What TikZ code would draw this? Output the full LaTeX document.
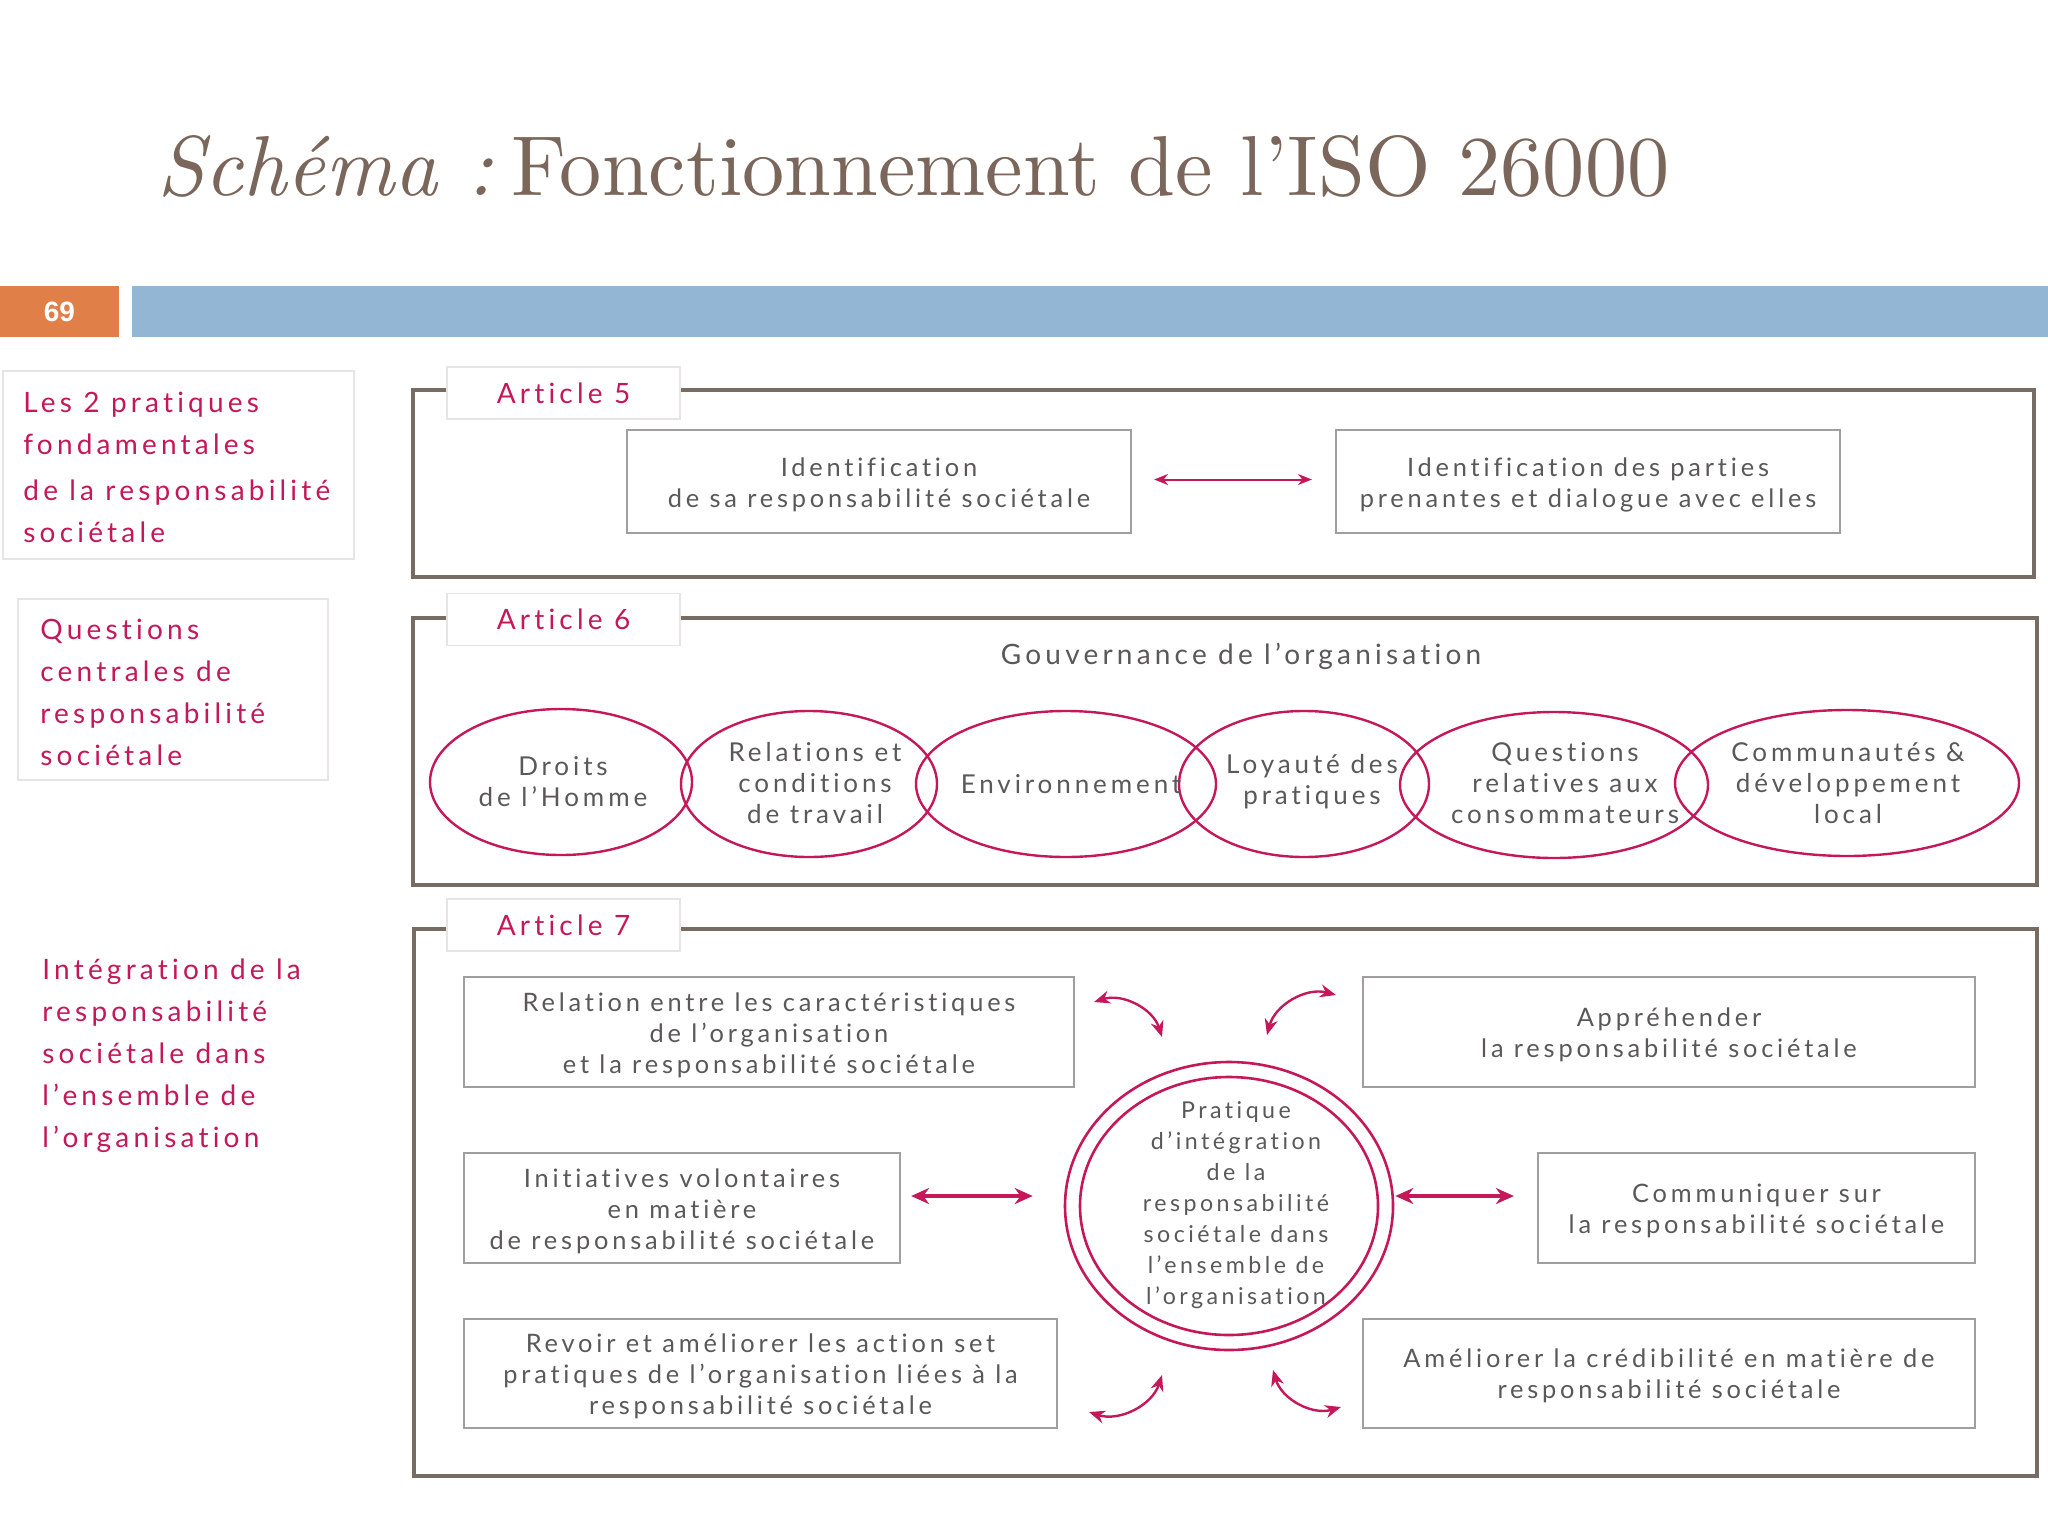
\documentclass[tikz,border=0pt]{standalone}
\usepackage{fontspec}
\usepackage{graphicx}
\usetikzlibrary{shapes.geometric,arrows.meta}
\newfontfamily\bodyfont[LetterSpace=15,Ligatures=NoCommon]{Lato}
\newfontfamily\numfont{Liberation Sans}
\definecolor{crim}{RGB}{197,24,90}
\definecolor{txtg}{RGB}{90,88,88}
\definecolor{framec}{RGB}{118,108,100}
\definecolor{boxc}{RGB}{160,158,158}
\definecolor{lightb}{RGB}{232,228,230}
\definecolor{orangec}{RGB}{224,128,72}
\definecolor{bluec}{RGB}{148,182,213}
\definecolor{titlec}{RGB}{122,102,90}
\begin{document}
\begin{tikzpicture}[x=0.5pt,y=-0.5pt,
 frame/.style={draw=framec,line width=1.75pt,inner sep=0pt},
 lbl/.style={draw=lightb,fill=white,line width=0.8pt,text=crim,font=\bodyfont\fontsize{14}{17}\selectfont,minimum width=116.5pt,minimum height=26pt,inner sep=0pt},
 gbox/.style={draw=boxc,fill=white,line width=1.1pt,inner sep=0pt},
 gtext/.style={text=txtg,align=center,inner sep=0pt,font=\bodyfont\fontsize{12.7}{15.5}\selectfont},
 ell/.style={ellipse,draw=crim,line width=1.2pt,inner sep=0pt,minimum height=73pt},
 etext/.style={text=txtg,align=center,font=\bodyfont\fontsize{13}{15.5}\selectfont,inner sep=0pt},
 ctextst/.style={text=txtg,align=center,font=\bodyfont\fontsize{11.6}{15.5}\selectfont,inner sep=0pt},
 side/.style={text=crim,align=left,anchor=west,inner sep=0pt,font=\bodyfont\fontsize{14}{21}\selectfont},
 sidebox/.style={draw=lightb,line width=0.8pt,inner sep=0pt},
 arrA/.style={draw=crim,line width=1pt,{Stealth[length=7pt,width=5.5pt]}-{Stealth[length=7pt,width=5.5pt]}},
 arrB/.style={draw=crim,line width=2pt,{Stealth[length=9pt,width=8pt]}-{Stealth[length=9pt,width=8pt]}},
 arrC/.style={draw=crim,line width=1.2pt,{Stealth[length=8pt,width=6.5pt]}-{Stealth[length=8pt,width=6.5pt]}},
]
\fill[white] (0,0) rectangle (2048,1536);
\useasboundingbox (0,0) rectangle (2048,1536);

% title
\node[anchor=base west,inner sep=0pt,text=titlec] (title) at (157,195)
  {\resizebox{756pt}{30pt}{\textit{Schéma :}\hspace{0.22em}Fonctionnement de l’ISO 26000}};

% header bar
\node[fill=orangec,minimum width=59.5pt,minimum height=25.5pt,inner sep=0pt,text=white,font=\numfont\bfseries\fontsize{14}{14}\selectfont] (num) at (59.5,311.5) {69};
\node[fill=bluec,minimum width=958pt,minimum height=25.5pt,inner sep=0pt] (bar) at (1090,311.5) {};

% left side
\node[sidebox,minimum width=175.5pt,minimum height=94pt] (lb1) at (178.5,465) {};
\node[side] (lt1) at (23,467) {Les 2 pratiques\\fondamentales\\[2pt]de la responsabilité\\sociétale};
\node[sidebox,minimum width=155pt,minimum height=90.5pt] (lb2) at (173,689.5) {};
\node[side] (lt2) at (40,692) {Questions\\centrales de\\responsabilité\\sociétale};
\node[side] (lt3) at (42,1056) {Intégration de la\\responsabilité\\sociétale dans\\l’ensemble de\\l’organisation};

% frames
\node[frame,minimum width=810.5pt,minimum height=93.5pt] (f5) at (1223.5,483.5) {};
\node[frame,minimum width=812pt,minimum height=133.5pt] (f6) at (1225,751.5) {};
\node[frame,minimum width=811.5pt,minimum height=273.5pt] (f7) at (1225.5,1202.5) {};
\node[lbl] (a5) at (563.5,393) {Article 5};
\node[lbl] (a6) at (563.5,619.5) {Article 6};
\node[lbl] (a7) at (563.5,925) {Article 7};

% article 5
\node[gbox,minimum width=252pt,minimum height=51.5pt] (id1) at (879,481.5) {};
\node[gtext] (id1t) at (879,485) {Identification\\de sa responsabilité sociétale};
\node[gbox,minimum width=252pt,minimum height=51.5pt] (id2) at (1588,481.5) {};
\node[gtext] (id2t) at (1588,485) {Identification des parties\\prenantes et dialogue avec elles};
\draw[arrA] ([xshift=11pt,yshift=1pt]id1.east) -- ([xshift=-11.5pt,yshift=1pt]id2.west);

% article 6
\node[text=txtg,font=\bodyfont\fontsize{14}{17}\selectfont,inner sep=0pt] (gov) at (1241,656) {Gouvernance de l’organisation};
\node[ell,minimum width=131pt] (e1) at (561,782) {};
\node[ell,minimum width=128pt] (e2) at (809,784) {};
\node[ell,minimum width=150pt] (e3) at (1066,784) {};
\node[ell,minimum width=125pt] (e4) at (1304,784) {};
\node[ell,minimum width=154pt] (e5) at (1554,785) {};
\node[ell,minimum width=172pt] (e6) at (1847,783) {};
\node[etext] (t1) at (563,782) {Droits\\de l’Homme};
\node[etext] (t2) at (815,783) {Relations et\\conditions\\de travail};
\node[etext] (t3) at (1071,784) {Environnement};
\node[etext] (t4) at (1312,782) {Loyauté des\\pratiques};
\node[etext] (t5) at (1565,783) {Questions\\relatives aux\\consommateurs};
\node[etext] (t6) at (1848,783) {Communautés \&\\développement\\local};

% article 7
\node[gbox,minimum width=305pt,minimum height=55pt] (b1) at (769,1032) {};
\node[gtext] (b1t) at (769,1035) {Relation entre les caractéristiques\\de l’organisation\\et la responsabilité sociétale};
\node[gbox,minimum width=306pt,minimum height=55pt] (b2) at (1669,1032) {};
\node[gtext] (b2t) at (1669,1035) {Appréhender\\la responsabilité sociétale};
\node[gbox,minimum width=218pt,minimum height=55pt] (b3) at (682,1208) {};
\node[gtext] (b3t) at (682,1211) {Initiatives volontaires\\en matière\\de responsabilité sociétale};
\node[gbox,minimum width=218.5pt,minimum height=55pt] (b4) at (1756.5,1208) {};
\node[gtext] (b4t) at (1756.5,1211) {Communiquer sur\\la responsabilité sociétale};
\node[gbox,minimum width=296.5pt,minimum height=54.5pt] (b5) at (760.5,1373.5) {};
\node[gtext] (b5t) at (760.5,1376) {Revoir et améliorer les action set\\pratiques de l’organisation liées à la\\responsabilité sociétale};
\node[gbox,minimum width=306pt,minimum height=54.5pt] (b6) at (1669,1373.5) {};
\node[gtext] (b6t) at (1669,1376) {Améliorer la crédibilité en matière de\\responsabilité sociétale};

\node[ellipse,draw=crim,line width=1.3pt,minimum width=164pt,minimum height=144pt,inner sep=0pt] (cout) at (1229,1206) {};
\node[ellipse,draw=crim,line width=1.3pt,minimum width=149pt,minimum height=129pt,inner sep=0pt] (cin) at (1229,1206) {};
\node[ctextst] (ctext) at (1236,1205) {Pratique\\d’intégration\\de la\\responsabilité\\sociétale dans\\l’ensemble de\\l’organisation};

\draw[arrB] ([xshift=5pt,yshift=6pt]b3.east) -- ([xshift=-15.5pt,yshift=6pt]b3.east -| cout.west);
\draw[arrB] ([xshift=0.5pt,yshift=6pt]cout.east |- b4.west) -- ([xshift=-11.5pt,yshift=6pt]b4.west);

\coordinate (tl1) at (1094,1002); \coordinate (tl2) at (1162,1037);
\coordinate (tr1) at (1267,1035); \coordinate (tr2) at (1336,995);
\coordinate (bl1) at (1162,1375); \coordinate (bl2) at (1089,1412);
\coordinate (br1) at (1273,1370); \coordinate (br2) at (1341,1407);
\draw[arrC] (tl1) to[bend left=45] (tl2);
\draw[arrC] (tr1) to[bend left=45] (tr2);
\draw[arrC] (bl1) to[bend left=45] (bl2);
\draw[arrC] (br1) to[bend right=45] (br2);
\end{tikzpicture}
\end{document}
